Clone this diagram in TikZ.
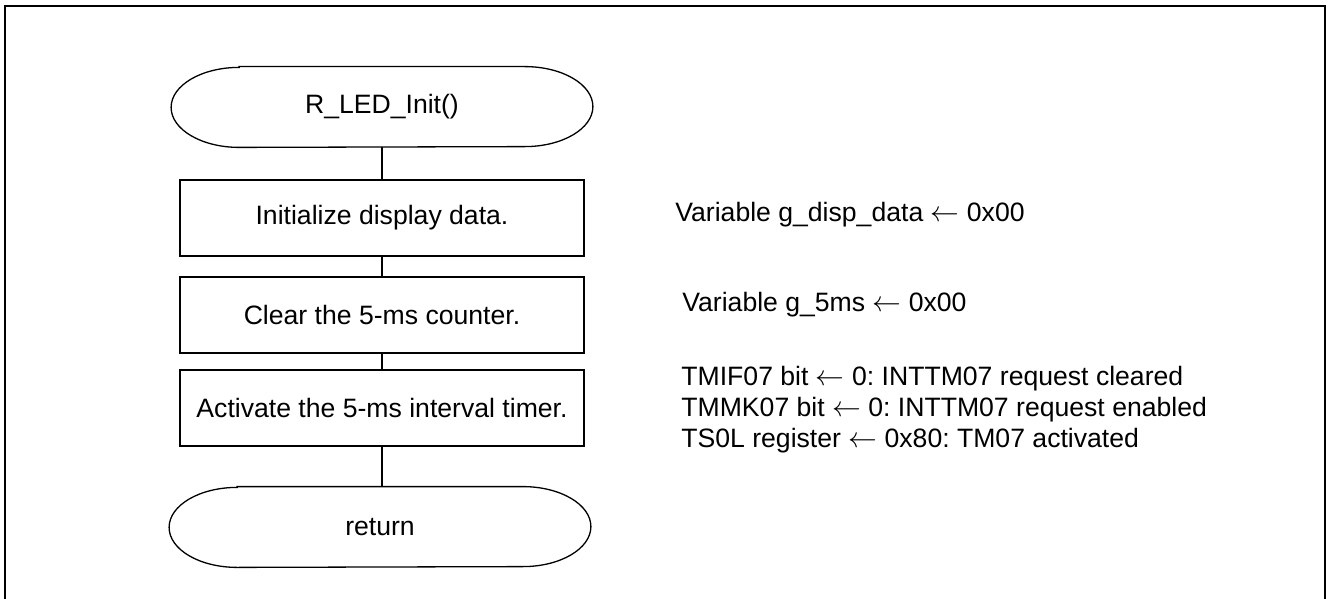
\documentclass[tikz,border=0pt]{standalone}
\usepackage{fontspec}
\setmainfont{Liberation Sans}
\usetikzlibrary{positioning}
\frenchspacing

\tikzset{
    flowline/.style = {draw, line width=0.65pt},
    frameline/.style = {draw, line width=1pt},
    procbox/.style = {draw, rectangle, line width=0.65pt, minimum width=202pt, minimum height=38pt, align=center, inner sep=0pt},
    termtext/.style = {rectangle, minimum width=210.5pt, minimum height=40pt, align=center, inner sep=0pt},
    note/.style = {align=left, inner sep=0pt},
}

% outline of a terminal node with elliptic ends
\newcommand{\drawterminal}[1]{%
    \path [flowline] ([xshift=34pt]#1.north west) -- ([xshift=-34pt]#1.north east)
        arc [start angle=90, end angle=-90, x radius=34pt, y radius=20pt]
        -- ([xshift=34pt]#1.south west)
        arc [start angle=270, end angle=90, x radius=34pt, y radius=20pt] -- cycle;}

\begin{document}
\begin{tikzpicture}[x=0.5pt, y=-0.5pt, font=\fontsize{13.3pt}{15.5pt}\selectfont]
        \useasboundingbox (0,0) rectangle (1328,599);
        \path [frameline] (5,599) -- (5,6) -- (1325,6) -- (1325,599);

        \node (start) [termtext] at (382,107) {R\_LED\_Init()};
        \node (initdisp) [procbox] at (382,218) {Initialize display data.};
        \node (clrcnt) [procbox] at (382,315) {Clear the 5-ms counter.};
        \node (acttimer) [procbox] at (382,408) {Activate the 5-ms interval timer.};
        \node (ret) [termtext] at (380,527) {return};
        \drawterminal{start}
        \drawterminal{ret}

        \node (dispnote) [note, anchor=base west] at (675,221) {Variable g\_disp\_data $\leftarrow$ 0x00};
        \node (cntnote) [note, anchor=base west] at (682,311) {Variable g\_5ms $\leftarrow$ 0x00};
        \node (timernote) [note, anchor=north west] at (681,366) {TMIF07 bit $\leftarrow$ 0: INTTM07 request cleared\\
            TMMK07 bit $\leftarrow$ 0: INTTM07 request enabled\\
            TS0L register $\leftarrow$ 0x80: TM07 activated};

        \path [flowline] (start) -- (initdisp);
        \path [flowline] (initdisp) -- (clrcnt);
        \path [flowline] (clrcnt) -- (acttimer);
        \path [flowline] (acttimer.south) -- (acttimer.south |- ret.north);
    \end{tikzpicture}
\end{document}
